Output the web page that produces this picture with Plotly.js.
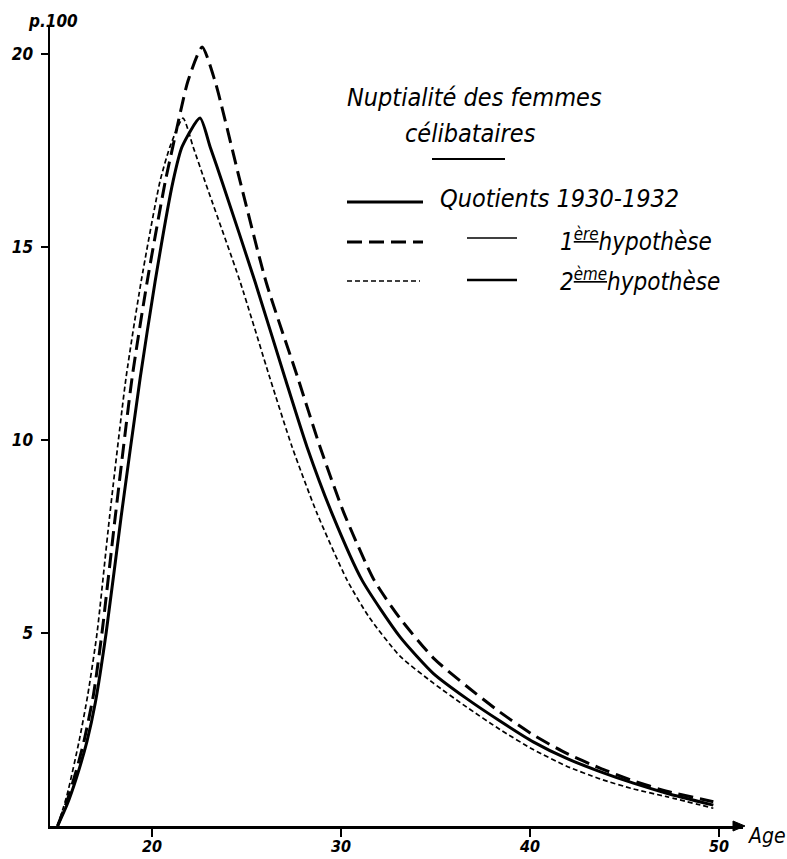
<!DOCTYPE html>
<html>
<head>
<meta charset="utf-8">
<script src="https://cdn.plot.ly/plotly-3.0.1.min.js"></script>
<style>html,body{margin:0;padding:0;background:#fff;}#chart{width:787px;height:859px;}</style>
</head>
<body>
<div id="chart"></div>
<script>
// ---- Data ----
const agesQuotients = [15, 15.5, 16, 16.56, 17, 17.57, 18.36, 19.37, 20.16, 21.11, 21.59, 22.54, 23.07, 23.7, 25.45, 27.04, 28.2, 29.52, 31.11, 33.12, 34.89, 36.65, 38.41, 40.17, 41.94, 43.7, 45.47, 47.23, 49.7];
const valsQuotients = [0, 0.55, 1.25, 2.2, 3.2, 5.0, 8.0, 11.6, 14.1, 16.7, 17.6, 18.34, 17.6, 16.7, 14.1, 11.6, 9.82, 8.1, 6.37, 4.9, 3.95, 3.3, 2.72, 2.18, 1.75, 1.41, 1.11, 0.85, 0.54];

const agesHyp1 = [15, 15.5, 16, 16.4, 16.9, 17.35, 18.05, 18.94, 19.74, 20.7, 21.1, 21.9, 22.65, 23.33, 24.66, 26.03, 27.72, 28.89, 30.16, 31.75, 33.12, 34.89, 36.65, 38.41, 40.17, 41.94, 43.7, 45.47, 47.23, 49.7];
const valsHyp1 = [0, 0.65, 1.45, 2.2, 3.4, 5.0, 8.0, 11.6, 14.1, 16.7, 17.6, 19.3, 20.18, 19.3, 16.7, 14.1, 11.6, 9.82, 8.1, 6.37, 5.38, 4.35, 3.62, 2.95, 2.36, 1.88, 1.5, 1.17, 0.9, 0.63];

const agesHyp2 = [15, 15.5, 16.14, 16.6, 17.09, 17.75, 18.62, 19.42, 20.42, 20.95, 21.64, 22.17, 22.8, 24.66, 26.24, 27.41, 28.73, 30.32, 31.5, 33.12, 34.89, 36.65, 38.41, 40.17, 41.94, 43.7, 45.47, 47.23, 49.7];
const valsHyp2 = [0, 0.8, 2.2, 3.4, 5.0, 8.0, 11.6, 14.1, 16.7, 17.6, 18.34, 17.6, 16.7, 14.1, 11.6, 9.82, 8.1, 6.37, 5.4, 4.4, 3.7, 3.08, 2.5, 1.98, 1.55, 1.22, 0.96, 0.76, 0.46];

const xTickVals = [20, 30, 40, 50];
const xTickText = ['20', '30', '40', '50'];
const yTickVals = [5, 10, 15, 20];
const yTickText = ['5', '10', '15', '20'];

const titleLine1 = 'Nuptialité des femmes';
const titleLine2 = 'célibataires';
const legendTexts = ['Quotients 1930-1932', '1<sup><u>ère</u></sup>hypothèse', '2<sup><u>ème</u></sup>hypothèse'];

// ---- Layout helpers (pixel -> paper) ----
const PL = 50, PR = 743, PT = 27, PB = 826;
const px = x => (x - PL) / (PR - PL);
const py = y => (PB - y) / (PB - PT);
const FONT = '"DejaVu Sans Condensed", "DejaVu Sans", sans-serif';

const traces = [
  {x: agesQuotients, y: valsQuotients, type: 'scatter', mode: 'lines',
   line: {color: '#000', width: 3, shape: 'spline', smoothing: 0.6}, hoverinfo: 'skip'},
  {x: agesHyp1, y: valsHyp1, type: 'scatter', mode: 'lines',
   line: {color: '#000', width: 3, dash: '15px,7px', shape: 'spline', smoothing: 0.6}, hoverinfo: 'skip'},
  {x: agesHyp2, y: valsHyp2, type: 'scatter', mode: 'lines',
   line: {color: '#000', width: 1.7, dash: '5px,3px', shape: 'spline', smoothing: 0.6}, hoverinfo: 'skip'}
];

const txt = (x, y, text, size, anchor) => ({
  xref: 'paper', yref: 'paper', x: px(x), y: py(y), text: text, showarrow: false,
  xanchor: anchor || 'left', yanchor: 'middle',
  font: {family: FONT, size: size, color: '#000', style: 'italic'}
});

const annotations = [
  txt(345, 97, titleLine1, 25),
  txt(470, 133, titleLine2, 25, 'center'),
  txt(438, 199, legendTexts[0], 25),
  txt(558, 240, legendTexts[1], 24),
  txt(558, 280, legendTexts[2], 24),
  {xref: 'paper', yref: 'paper', x: px(26), y: py(21), text: 'p.100', showarrow: false,
   xanchor: 'left', yanchor: 'middle', font: {family: FONT, size: 17, color: '#000', style: 'italic', weight: 'bold'}},
  {xref: 'paper', yref: 'paper', x: px(746), y: py(836), text: 'Age', showarrow: false,
   xanchor: 'left', yanchor: 'middle', font: {family: FONT, size: 21, color: '#000', style: 'italic'}}
];

const seg = (x0, x1, y, width, dash) => ({
  type: 'line', xref: 'paper', yref: 'paper', x0: px(x0), x1: px(x1), y0: py(y), y1: py(y),
  line: {color: '#000', width: width, dash: dash || 'solid'}
});

const shapes = [
  seg(432, 505, 159, 2),
  seg(347, 423, 202, 3),
  seg(347, 423, 242, 3, '15px,7px'),
  seg(467, 517, 238, 1.5),
  seg(347, 420, 281, 1.7, '5px,3px'),
  seg(467, 517, 280, 2.5),
  {type: 'path', xref: 'paper', yref: 'paper',
   path: 'M ' + px(733) + ',' + py(821) + ' L ' + px(745) + ',' + py(826) + ' L ' + px(733) + ',' + py(831) + ' Z',
   fillcolor: '#000', line: {color: '#000', width: 1}}
];

const layout = {
  width: 787, height: 859,
  margin: {l: PL, r: 787 - PR, t: PT, b: 859 - PB, pad: 0},
  paper_bgcolor: '#fff', plot_bgcolor: '#fff',
  showlegend: false,
  xaxis: {
    range: [14.6, 51.27], showgrid: false, zeroline: false,
    showline: true, linecolor: '#000', linewidth: 2.5,
    ticks: 'outside', ticklen: 8, tickwidth: 2, tickcolor: '#000',
    tickvals: xTickVals, ticktext: xTickText, ticklabelstandoff: -4,
    tickfont: {family: FONT, size: 16, color: '#000', style: 'italic', weight: 'bold'}
  },
  yaxis: {
    range: [0, 20.7], showgrid: false, zeroline: false,
    showline: true, linecolor: '#000', linewidth: 2.5,
    ticks: 'outside', ticklen: 7, tickwidth: 2, tickcolor: '#000',
    tickvals: yTickVals, ticktext: yTickText, ticklabelstandoff: 4,
    tickfont: {family: FONT, size: 17, color: '#000', style: 'italic', weight: 'bold'}
  },
  annotations: annotations,
  shapes: shapes
};

Plotly.newPlot('chart', traces, layout, {staticPlot: true, displayModeBar: false});
</script>
</body>
</html>
